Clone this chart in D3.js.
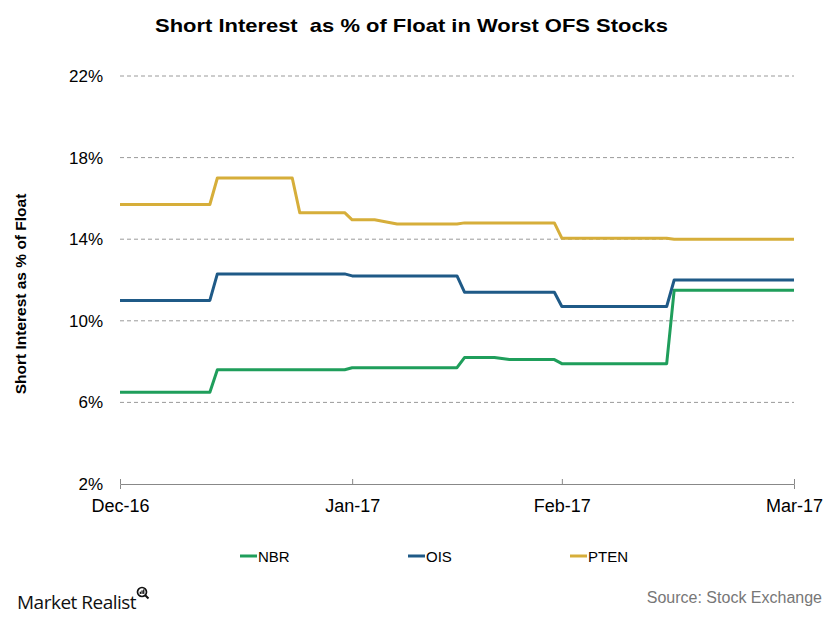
<!DOCTYPE html>
<html><head><meta charset="utf-8">
<script src="https://cdn.jsdelivr.net/npm/d3@7"></script>
<style>body{margin:0;background:#fff;} svg{display:block;font-family:"Liberation Sans",Arial,sans-serif;}</style>
</head><body>
<svg id="c" width="840" height="628"></svg>
<script>
// Day offsets from Dec 1, 2016 (positions along x axis)
const days = [0, 12, 13, 23, 24, 30, 31, 34, 37, 45, 46, 50, 52, 58, 59, 73, 74, 90];
const nbr  = [6.5, 6.5, 7.6, 7.6, 7.6, 7.6, 7.7, 7.7, 7.7, 7.7, 8.2, 8.2, 8.1, 8.1, 7.9, 7.9, 11.5, 11.5];
const ois  = [11.0, 11.0, 12.3, 12.3, 12.3, 12.3, 12.2, 12.2, 12.2, 12.2, 11.4, 11.4, 11.4, 11.4, 10.7, 10.7, 12.0, 12.0];
const pten = [15.7, 15.7, 17.0, 17.0, 15.3, 15.3, 14.95, 14.95, 14.75, 14.75, 14.8, 14.8, 14.8, 14.8, 14.05, 14.05, 14.0, 14.0];
const seriesNames = ["NBR", "OIS", "PTEN"];
const seriesColors = ["#1f9e5b", "#1f5a87", "#d6ae3a"];
const xTickPos = [0, 31, 59, 90];
const xTickLabels = ["Dec-16", "Jan-17", "Feb-17", "Mar-17"];
const yTicks = [2, 6, 10, 14, 18, 22];

const svg = d3.select("#c");
const x = d3.scaleLinear().domain([0, 90]).range([120, 794]);
const y = d3.scaleLinear().domain([2, 22]).range([484, 76]);

// title
svg.append("text").attr("x", 155).attr("y", 32)
  .attr("font-weight", "bold").attr("font-size", 19).attr("fill", "#000")
  .attr("textLength", 513).attr("lengthAdjust", "spacingAndGlyphs")
  .style("white-space", "pre")
  .text("Short Interest  as % of Float in Worst OFS Stocks");

// grid
svg.append("g").selectAll("line").data(yTicks.filter(d => d !== 2)).join("line")
  .attr("x1", 120).attr("x2", 794).attr("y1", d => y(d)).attr("y2", d => y(d))
  .attr("stroke", "#9a9a9a").attr("stroke-width", 1).attr("stroke-dasharray", "4,3");

// y axis labels
const yAxis = d3.axisLeft(y).tickValues(yTicks).tickFormat(d => d + "%").tickSize(0).tickPadding(17);
const gy = svg.append("g").attr("transform", "translate(120,0)").call(yAxis);
gy.select(".domain").remove();
gy.selectAll("text").attr("font-size", 17).attr("fill", "#000").attr("font-family", "Liberation Sans, Arial, sans-serif");

// x axis
const xAxis = d3.axisBottom(x).tickValues(xTickPos).tickFormat((d, i) => xTickLabels[i]).tickSize(5).tickPadding(7);
const gx = svg.append("g").attr("transform", "translate(0,484)").call(xAxis);
gx.select(".domain").attr("stroke", "#888");
gx.selectAll(".tick line").attr("stroke", "#888").attr("y1", -5).attr("y2", 0);
gx.selectAll("text").attr("font-size", 18).attr("fill", "#000").attr("dy", "0.9em").attr("font-family", "Liberation Sans, Arial, sans-serif");

// y axis title
svg.append("text").attr("transform", "translate(26,294) rotate(-90)").attr("text-anchor", "middle")
  .attr("font-weight", "bold").attr("font-size", 15.5).attr("fill", "#000")
  .text("Short Interest as % of Float");

// lines
const allSeries = [nbr, ois, pten];
const line = d3.line().x((d, i) => x(days[i])).y(d => y(d));
svg.append("g").selectAll("path").data(allSeries).join("path")
  .attr("d", d => line(d)).attr("fill", "none")
  .attr("stroke", (d, i) => seriesColors[i]).attr("stroke-width", 3)
  .attr("stroke-linejoin", "round");

// legend
const legX = [240, 408, 570];
const leg = svg.append("g").selectAll("g").data(seriesNames).join("g")
  .attr("transform", (d, i) => `translate(${legX[i]},556)`);
leg.append("line").attr("x1", 0).attr("x2", 17).attr("y1", 0).attr("y2", 0)
  .attr("stroke", (d, i) => seriesColors[i]).attr("stroke-width", 3);
leg.append("text").attr("x", 18).attr("y", 6).attr("font-size", 15).attr("fill", "#000").text(d => d);

// footer
svg.append("text").attr("x", 17).attr("y", 609).attr("font-size", 19).attr("fill", "#111")
  .attr("font-family", "Open Sans, sans-serif").attr("letter-spacing", "-0.5").text("Market Realist");
const mg = svg.append("g").attr("transform", "translate(142,592)");
mg.append("circle").attr("r", 4.5).attr("fill", "none").attr("stroke", "#111").attr("stroke-width", 1.7);
mg.append("line").attr("x1", 3.2).attr("y1", 3.2).attr("x2", 6.5).attr("y2", 6.5).attr("stroke", "#111").attr("stroke-width", 2);
mg.append("rect").attr("x", -2.3).attr("y", -0.3).attr("width", 1.3).attr("height", 2.2).attr("fill", "#111");
mg.append("rect").attr("x", -0.6).attr("y", -1.6).attr("width", 1.3).attr("height", 3.5).attr("fill", "#111");
mg.append("rect").attr("x", 1.1).attr("y", -2.6).attr("width", 1.3).attr("height", 4.5).attr("fill", "#111");
svg.append("text").attr("x", 822).attr("y", 603).attr("text-anchor", "end").attr("font-size", 16)
  .attr("fill", "#777").text("Source: Stock Exchange");
</script>
</body></html>
